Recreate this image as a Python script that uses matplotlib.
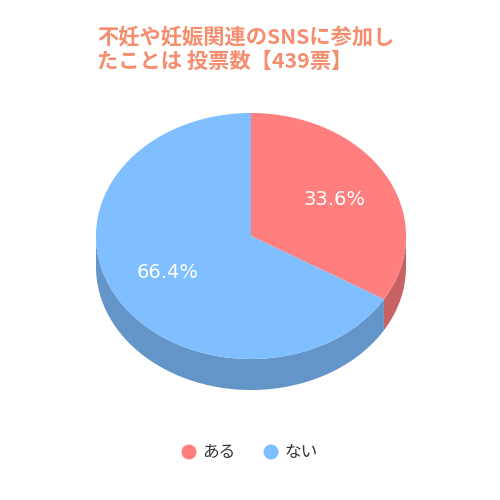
import numpy as np
import matplotlib
matplotlib.use("Agg")
import matplotlib.pyplot as plt
from matplotlib.patches import Polygon, Circle

plt.rcParams['font.family'] = ['Noto Sans CJK JP', 'DejaVu Sans']

labels = ["ある", "ない"]
values = [33.6, 66.4]
colors = ["#FF7F7F", "#7FBFFF"]
side_colors = ["#C76363", "#6495C8"]
title = "不妊や妊娠関連のSNSに参加し\nたことは 投票数【439票】"

fig = plt.figure(figsize=(5, 5), dpi=100)
ax = fig.add_axes([0, 0, 1, 1])
ax.set_xlim(0, 500)
ax.set_ylim(500, 0)
ax.axis('off')

cx, cy, rx, ry, depth = 251, 236, 155, 123, 31

def pt(t):
    return cx + rx * np.sin(t), cy - ry * np.cos(t)

total = sum(values)
starts = np.cumsum([0] + values[:-1]) / total * 2 * np.pi
ends = np.cumsum(values) / total * 2 * np.pi

# sides
for s, e, sc in zip(starts, ends, side_colors):
    a0, a1 = max(s, np.pi / 2), min(e, 3 * np.pi / 2)
    if a1 <= a0:
        continue
    t = np.linspace(a0, a1, 200)
    x, y = pt(t)
    xs = np.concatenate([x, x[::-1]])
    ys = np.concatenate([y, (y + depth)[::-1]])
    ax.add_patch(Polygon(np.column_stack([xs, ys]), closed=True, fc=sc, ec='none'))

# tops
for s, e, c in zip(starts, ends, colors):
    t = np.linspace(s, e, 400)
    x, y = pt(t)
    xs = np.concatenate([[cx], x])
    ys = np.concatenate([[cy], y])
    ax.add_patch(Polygon(np.column_stack([xs, ys]), closed=True, fc=c, ec='none'))

# labels
for s, e, v in zip(starts, ends, values):
    m = (s + e) / 2
    lx = cx + 0.62 * rx * np.sin(m)
    ly = cy - 0.61 * ry * np.cos(m)
    ax.text(lx, ly, f"{v:.1f}%", color='white', fontsize=14,
            ha='center', va='center', family=['DejaVu Sans'])

ax.text(97, 49, title, color='#F58D6E', fontsize=15.3, fontweight='bold',
        ha='left', va='center', linespacing=1.2)

# legend
lx_positions = [189, 271]
for x0, lab, c in zip(lx_positions, labels, colors):
    ax.add_patch(Circle((x0, 452), 7.5, fc=c, ec='none'))
    ax.text(x0 + 13, 452, lab, fontsize=12, color='#333333', ha='left', va='center')

fig.savefig("out.png", dpi=100)
